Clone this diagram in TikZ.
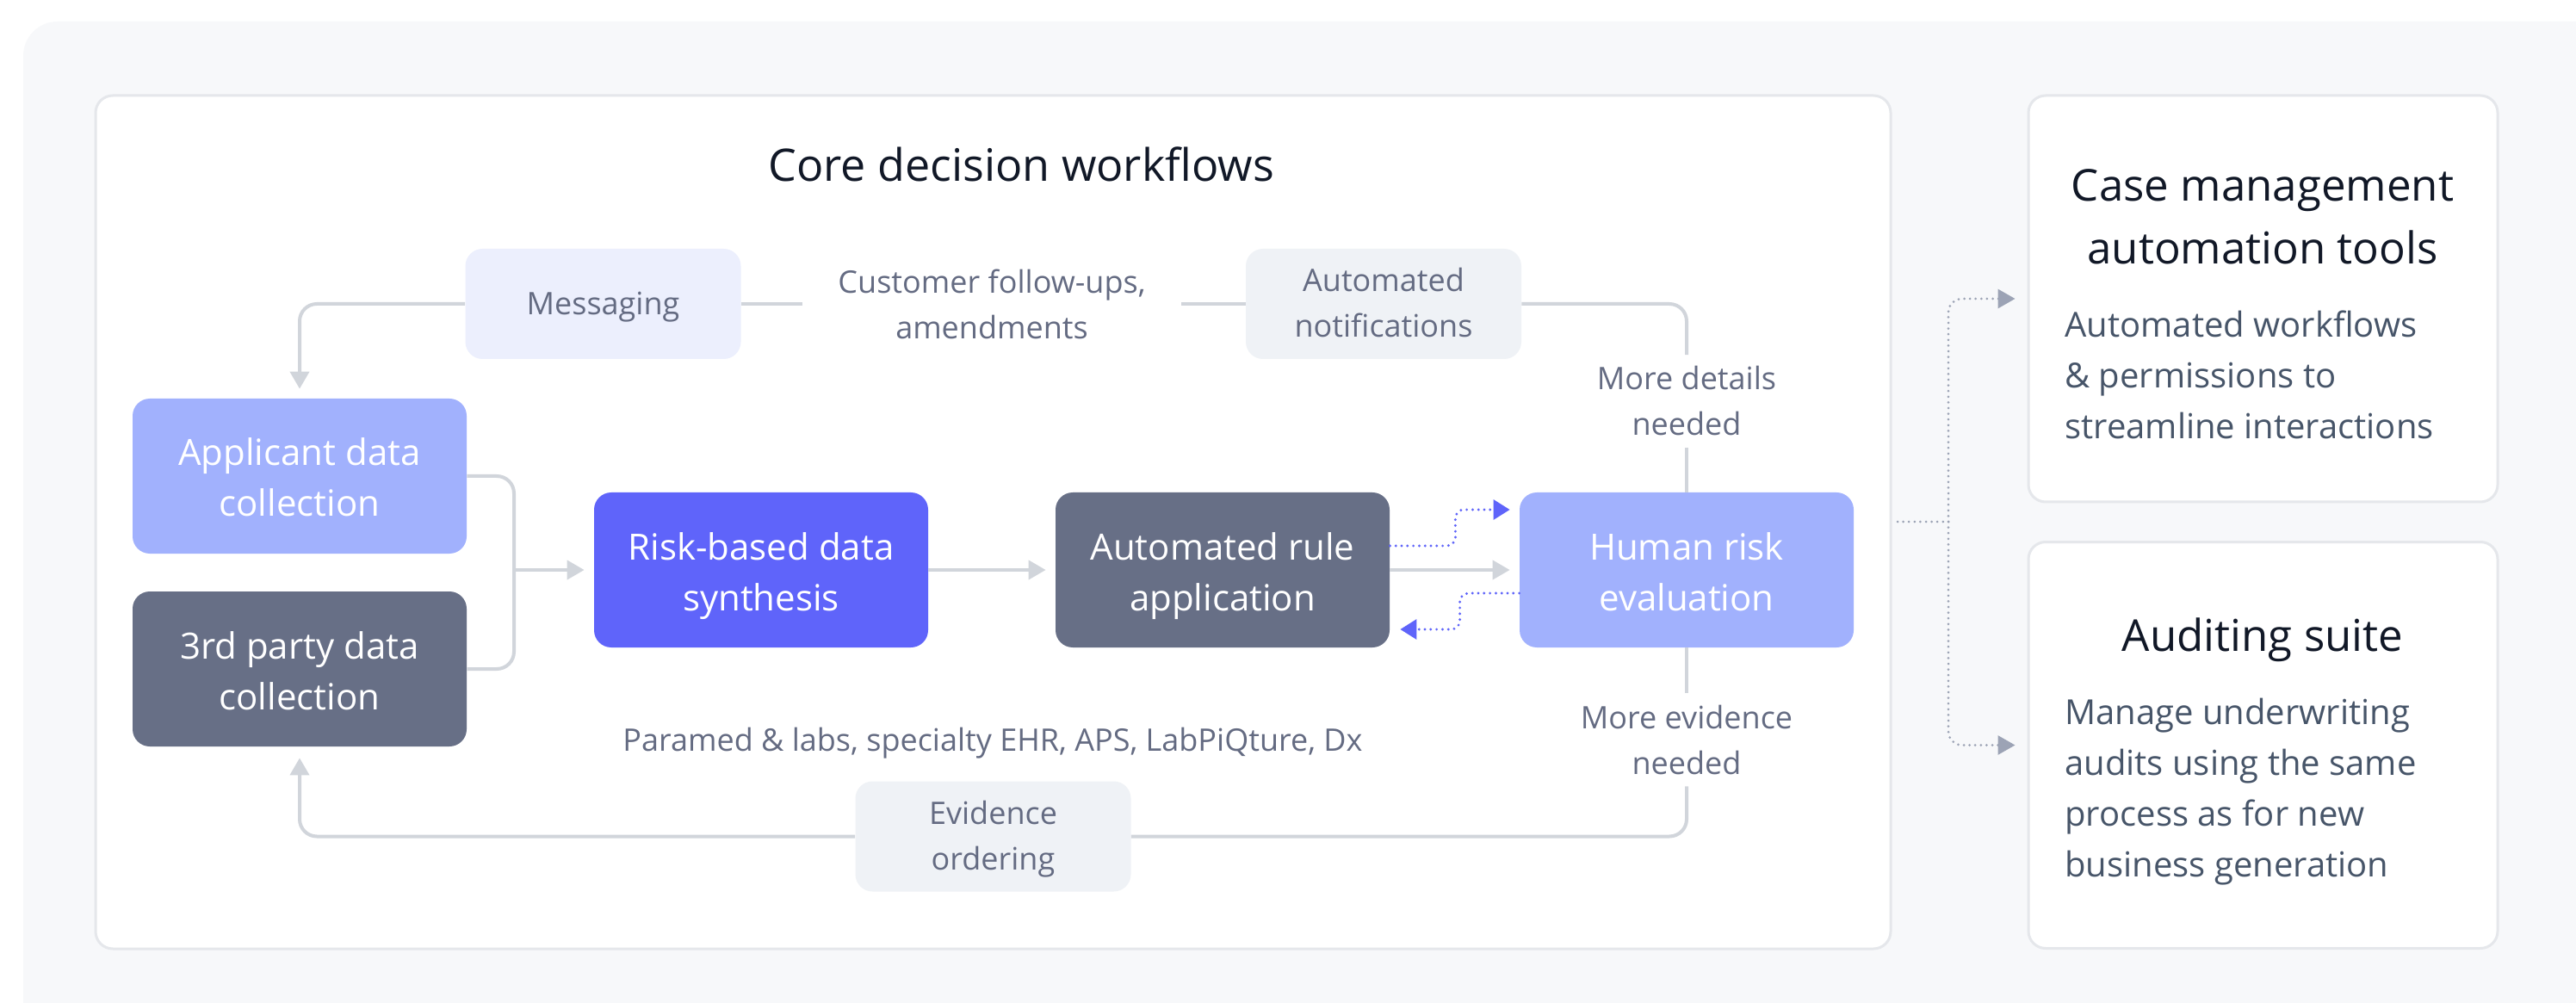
\documentclass[tikz,border=0pt]{standalone}
\usepackage{fontspec}
\setmainfont{Open Sans}
\usetikzlibrary{arrows.meta}
\definecolor{bgout}{HTML}{F7F8FA}
\definecolor{boxborder}{HTML}{E5E7EB}
\definecolor{lightblue}{HTML}{A1B1FD}
\definecolor{slatebox}{HTML}{676F86}
\definecolor{indigo}{HTML}{5F64FA}
\definecolor{msgfill}{HTML}{ECEFFD}
\definecolor{notiffill}{HTML}{EFF2F6}
\definecolor{labeltxt}{HTML}{646B82}
\definecolor{connc}{HTML}{D1D5DB}
\definecolor{titletxt}{HTML}{111827}
\definecolor{bodytxt}{HTML}{475569}
\definecolor{dotgray}{HTML}{9CA3B5}
\newcommand{\stgtop}{\rule{0pt}{23.5pt}}
\newcommand{\stgbot}{\rule[-6pt]{0pt}{6pt}}
\newcommand{\tagtop}{\rule{0pt}{18.5pt}}
\newcommand{\tagbot}{\rule[-6pt]{0pt}{6pt}}
\begin{document}
\begin{tikzpicture}[x=0.5pt,y=-0.5pt,
  stage/.style={rectangle, rounded corners=10pt, minimum width=194pt, minimum height=90pt,
    text=white, align=center, font=\fontsize{21}{29.5}\selectfont, inner sep=0pt},
  tag/.style={rectangle, rounded corners=10pt, minimum width=160pt, minimum height=64pt,
    text=labeltxt, align=center, font=\fontsize{18}{26.5}\selectfont, inner sep=0pt},
  lbl/.style={text=labeltxt, align=center, font=\fontsize{18}{26.5}\selectfont, inner sep=0pt},
  card/.style={rectangle, rounded corners=10pt, fill=white, draw=boxborder, line width=1.5pt,
    minimum width=272.5pt, minimum height=236pt, inner sep=0pt},
  cardtitle/.style={text=titletxt, align=center, font=\fontsize{25.5}{36.5}\selectfont, inner sep=0pt},
  cardbody/.style={text=bodytxt, align=left, font=\fontsize{20}{29.5}\selectfont, inner sep=0pt, anchor=west},
  flow/.style={draw=connc, line width=2pt, rounded corners=10pt},
  flowarrow/.style={flow, -{Triangle[length=10pt,width=11pt]}, shorten >=5.5pt},
  bluedot/.style={draw=indigo, line width=1.6pt, dash pattern=on 0pt off 3.4pt, line cap=round,
    -{Triangle[length=9.5pt,width=11.5pt]}, rounded corners=5pt, shorten >=5.5pt},
  graydot/.style={draw=dotgray, line width=1.5pt, dash pattern=on 0pt off 3.3pt, line cap=round,
    rounded corners=8pt}
]
\clip (0,0) rectangle (2992,1165);
\fill[white] (0,0) rectangle (2992,1165);
\fill[bgout, rounded corners=20pt] (27,25) rectangle (3150,1300);
% inner panel
\draw[fill=white, draw=boxborder, line width=1.5pt, rounded corners=10pt] (111,111) rectangle (2196,1102);
\node[text=titletxt, font=\fontsize{26}{32}\selectfont, inner sep=0pt] (title) at (1186,191) {Core decision workflows};

% stages
\node[stage, fill=lightblue] (app) at (348,553) {\stgtop Applicant data\\collection\stgbot};
\node[stage, fill=slatebox] (third) at (348,777) {\stgtop 3rd party data\\collection\stgbot};
\node[stage, fill=indigo] (risk) at (884,662) {\stgtop Risk-based data\\synthesis\stgbot};
\node[stage, fill=slatebox] (rule) at (1420,662) {\stgtop Automated rule\\application\stgbot};
\node[stage, fill=lightblue] (human) at (1959,662) {\stgtop Human risk\\evaluation\stgbot};

% tags
\node[tag, fill=msgfill] (msg) at (700.5,353) {\tagtop Messaging\tagbot};
\node[tag, fill=notiffill] (notif) at (1607,353) {\tagtop Automated\\notifications\tagbot};
\node[tag, fill=notiffill] (evid) at (1153.5,971.5) {\tagtop Evidence\\ordering\tagbot};

% labels
\node[lbl, minimum width=220pt] (cust) at (1152,353) {Customer follow-ups,\\amendments};
\node[lbl, minimum height=53.5pt] (moredet) at (1959,466) {More details\\needed};
\node[lbl, minimum height=54pt] (moreev) at (1959,859) {More evidence\\needed};
\node[lbl] (paramed) at (1153,863) {Paramed \& labs, specialty EHR, APS, LabPiQture, Dx};

% connectors
\draw[flowarrow] (msg.west) -| (app.north);
\draw[flow] (msg.east) -- (cust.west);
\draw[flow] (cust.east) -- (notif.west);
\draw[flow] (notif.east) -| (moredet.north);
\draw[flow] (moredet.south) -- (human.north);
\draw[flow] (human.south) -- (moreev.north);
\draw[flow] (moreev.south) |- (evid.east);
\draw[flowarrow, shorten >=6.5pt] (evid.west) -| (third.south);
\coordinate (join) at (597,662);
\draw[flow] (app.east) -| (join) |- (third.east);
\draw[flowarrow] (join) -- (risk.west);
\draw[flowarrow] (risk.east) -- (rule.west);
\draw[flowarrow] (rule.east) -- (human.west);

% dotted feedback
\draw[bluedot] ([yshift=14pt]rule.east) -- ++(76,0) |- ([yshift=35pt]human.west);
\draw[bluedot, shorten >=6pt] ([yshift=-13.5pt]human.west) -- ++(-69,0) |- ([yshift=-34.5pt]rule.east);

% right cards
\node[card] (case) at (2628.5,347) {};
\node[card] (audit) at (2628.5,865.5) {};
\node[cardtitle] (casetitle) at (2628,252) {Case management\\automation tools};
\node[cardbody] (casebody) at (2398,435) {Automated workflows\\\& permissions to\\streamline interactions};
\node[cardtitle] (audittitle) at (2628,743) {Auditing suite};
\node[cardbody] (auditbody) at (2398,919.5) {Manage underwriting\\audits using the same\\process as for new\\business generation};

\coordinate (ds) at (2204,606);
\coordinate (dj) at (2263,606);
\draw[graydot] (ds) -- (dj);
\draw[graydot, -{Triangle[length=10pt,width=11pt]}, shorten >=7pt] (dj) |- (case.west);
\draw[graydot, -{Triangle[length=10pt,width=11pt]}, shorten >=7pt] (dj) |- (audit.west);
\end{tikzpicture}
\end{document}
